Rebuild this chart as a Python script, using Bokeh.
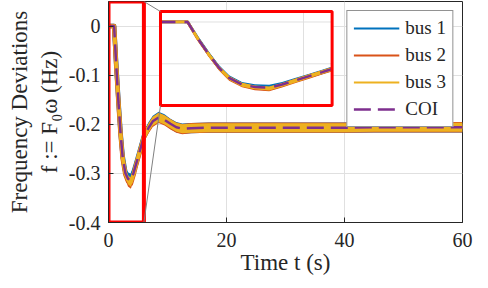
import math
from bokeh.plotting import figure
from bokeh.models import Range1d, Legend, LegendItem
from bokeh.embed import file_html
from bokeh.resources import INLINE

# ---------------- data ----------------
t = [0.0, 0.95, 1.3, 1.7, 2.05, 2.4, 2.85, 3.3, 3.8, 4.25, 4.7, 5.2, 5.65, 6.0,
     6.8, 7.5, 8.5, 9.5, 10.5, 11.5, 12.5, 14.0, 17.0, 20.0,
     25.0, 30.0, 35.0, 40.0, 45.0, 50.0, 55.0, 60.0]
coi = [0.0, 0.0, -0.078, -0.157, -0.220, -0.267, -0.299, -0.311, -0.314, -0.299, -0.280, -0.259, -0.240, -0.225,
       -0.207, -0.194, -0.186, -0.191, -0.199, -0.206, -0.209, -0.208, -0.207, -0.207,
       -0.207, -0.207, -0.207, -0.207, -0.206, -0.206, -0.206, -0.206]
bus1 = [0.0, 0.0, -0.076, -0.155, -0.218, -0.265, -0.297, -0.308, -0.311, -0.297, -0.279, -0.258, -0.239, -0.224,
        -0.206, -0.193, -0.185, -0.190, -0.199, -0.206, -0.209, -0.208, -0.207, -0.207,
        -0.207, -0.207, -0.207, -0.207, -0.206, -0.206, -0.206, -0.206]
bus2 = [0.0, 0.0, -0.080, -0.159, -0.222, -0.270, -0.302, -0.316, -0.321, -0.303, -0.282, -0.261, -0.241, -0.226,
        -0.208, -0.195, -0.187, -0.192, -0.200, -0.207, -0.210, -0.208, -0.207, -0.207,
        -0.207, -0.207, -0.207, -0.207, -0.206, -0.206, -0.206, -0.206]
bus3 = [0.0, 0.0, -0.078, -0.157, -0.220, -0.268, -0.300, -0.313, -0.318, -0.301, -0.281, -0.259, -0.240, -0.225,
        -0.207, -0.194, -0.186, -0.191, -0.199, -0.206, -0.209, -0.208, -0.207, -0.207,
        -0.207, -0.207, -0.207, -0.207, -0.206, -0.206, -0.206, -0.206]
# half-height of the fast oscillation band around each bus trace
ripple = [0.0, 0.0, 0.008, 0.010, 0.0105, 0.0105, 0.0105, 0.0105, 0.0105, 0.0105, 0.0105, 0.0105, 0.0105, 0.0105,
          0.0105, 0.0105, 0.0105, 0.0105, 0.0105, 0.0105, 0.0105, 0.0105, 0.0105, 0.0105,
          0.0105, 0.0105, 0.0105, 0.0105, 0.0105, 0.0105, 0.0105, 0.0105]

series_names = ["bus 1", "bus 2", "bus 3"]
coi_name = "COI"
x_ticks = [0, 20, 40, 60]
y_ticks = [-0.4, -0.3, -0.2, -0.1, 0.0]
y_tick_labels = ["-0.4", "-0.3", "-0.2", "-0.1", "0"]
inset_x_ticks = [0, 5]
inset_y_ticks = [-0.4, -0.2, 0.0]
x_label = "Time t (s)"
y_label = "Frequency Deviations\nf := F₀ω (Hz)"

# ---------------- styles / layout ----------------
COLORS = ["#0072BD", "#D95319", "#EDB120"]
BAND_SCALE = [1.0, 1.0, 0.88]
LINE_W = [4.5, 4.5, 3.8]
COI_COLOR = "#7E2F8E"
TXT = "#262626"
FONT = "Liberation Serif"
GRID = "#e0e0e0"

X_RANGE = (0, 60)
Y_RANGE = (-0.4, 0.05)
ZOOM_X = (0, 6)                       # zoomed region (also inset source range)
INSET_TARGET_X = (8.81, 37.9)         # where the inset sits, in main data units
INSET_TARGET_Y = (-0.162, 0.0296)

p = figure(width=480, height=280, x_range=Range1d(*X_RANGE), y_range=Range1d(*Y_RANGE),
           output_backend="svg", toolbar_location=None,
           min_border_left=108, min_border_right=18, min_border_top=1, min_border_bottom=58)
p.background_fill_color = "white"
p.border_fill_color = "white"
p.outline_line_color = TXT
p.outline_line_width = 1

for ax in (p.xaxis, p.yaxis):
    ax.major_tick_in = 5
    ax.major_tick_out = 0
    ax.minor_tick_in = 0
    ax.minor_tick_out = 0
    ax.axis_line_color = TXT
    ax.major_tick_line_color = TXT
    ax.major_label_text_font = FONT
    ax.major_label_text_font_size = "20px"
    ax.major_label_text_color = TXT
    ax.axis_label_text_font = FONT
    ax.axis_label_text_font_size = "23px"
    ax.axis_label_text_font_style = "normal"
    ax.axis_label_text_color = TXT
p.xaxis.ticker = x_ticks
p.yaxis.ticker = y_ticks
p.yaxis.major_label_overrides = {v: s for v, s in zip(y_ticks, y_tick_labels)}
p.xaxis.major_label_standoff = 10
p.yaxis.major_label_standoff = 8
p.xaxis.axis_label = x_label
p.xaxis.axis_label_standoff = 0
p.yaxis.axis_label = y_label
p.yaxis.axis_label_standoff = 4
p.xgrid.ticker = x_ticks
p.ygrid.ticker = y_ticks
p.xgrid.grid_line_color = GRID
p.ygrid.grid_line_color = GRID

buses = [bus1, bus2, bus3]

# thin lines (used for the legend samples)
legend_renderers = []
for b, c in zip(buses, COLORS):
    legend_renderers.append(p.line(t, b, line_color=c, line_width=2))

# main traces: oscillation band + line
for b, c, s, w in zip(buses, COLORS, BAND_SCALE, LINE_W):
    lo = [v - r * s for v, r in zip(b, ripple)]
    hi = [v + r * s for v, r in zip(b, ripple)]
    p.varea(x=t, y1=lo, y2=hi, fill_color=c)
    p.line(t, b, line_color=c, line_width=w, line_join="round")
coi_r = p.line(t, coi, line_color=COI_COLOR, line_width=2.5, line_dash="17 7")

# ---------------- inset ----------------
sub = p.subplot(x_source=Range1d(*ZOOM_X), y_source=Range1d(*Y_RANGE),
                x_target=Range1d(*INSET_TARGET_X), y_target=Range1d(*INSET_TARGET_Y))
sub.quad(left=[ZOOM_X[0]], right=[ZOOM_X[1]], bottom=[Y_RANGE[0]], top=[Y_RANGE[1]],
         fill_color="white", line_color=None)
sub.segment(x0=inset_x_ticks, x1=inset_x_ticks, y0=[Y_RANGE[0]] * len(inset_x_ticks),
            y1=[Y_RANGE[1]] * len(inset_x_ticks), line_color=GRID, line_width=1)
sub.segment(x0=[ZOOM_X[0]] * len(inset_y_ticks), x1=[ZOOM_X[1]] * len(inset_y_ticks),
            y0=inset_y_ticks, y1=inset_y_ticks, line_color=GRID, line_width=1)
idx = [i for i, v in enumerate(t) if ZOOM_X[0] <= v <= ZOOM_X[1]]
ti = [t[i] for i in idx]
for b, c, s in zip(buses, COLORS, BAND_SCALE):
    bi = [b[i] for i in idx]
    ri = [ripple[i] for i in idx]
    sub.varea(x=ti, y1=[v - r * s for v, r in zip(bi, ri)], y2=[v + r * s for v, r in zip(bi, ri)],
              fill_color=c)
    sub.line(ti, bi, line_color=c, line_width=2.8, line_join="round")
sub.line(ti, [coi[i] for i in idx], line_color=COI_COLOR, line_width=2.5, line_dash="15 9")
sub.quad(left=[ZOOM_X[0]], right=[ZOOM_X[1]], bottom=[Y_RANGE[0]], top=[Y_RANGE[1]],
         fill_color=None, line_color="red", line_width=3)

# zoom box on the main axes and connector lines
p.quad(left=[ZOOM_X[0]], right=[ZOOM_X[1]], bottom=[Y_RANGE[0]], top=[Y_RANGE[1]],
       fill_color=None, line_color="red", line_width=4)
p.segment(x0=[ZOOM_X[1], ZOOM_X[1]], y0=[Y_RANGE[1], Y_RANGE[0]],
          x1=[INSET_TARGET_X[0], INSET_TARGET_X[0]], y1=[INSET_TARGET_Y[1], INSET_TARGET_Y[0]],
          line_color="#808080", line_width=1)

# ---------------- legend ----------------
items = [LegendItem(label=n, renderers=[r]) for n, r in zip(series_names, legend_renderers)]
items.append(LegendItem(label=coi_name, renderers=[coi_r]))
legend = Legend(items=items, location="top_right", label_text_font=FONT, label_text_font_size="19px",
                label_text_color=TXT, glyph_width=46, glyph_height=18, label_height=18, spacing=5,
                padding=6, margin=9, label_standoff=6, border_line_color=TXT, border_line_width=1,
                background_fill_color="white", background_fill_alpha=1.0)
p.add_layout(legend)

open("out.html", "w").write(file_html(p, INLINE))
